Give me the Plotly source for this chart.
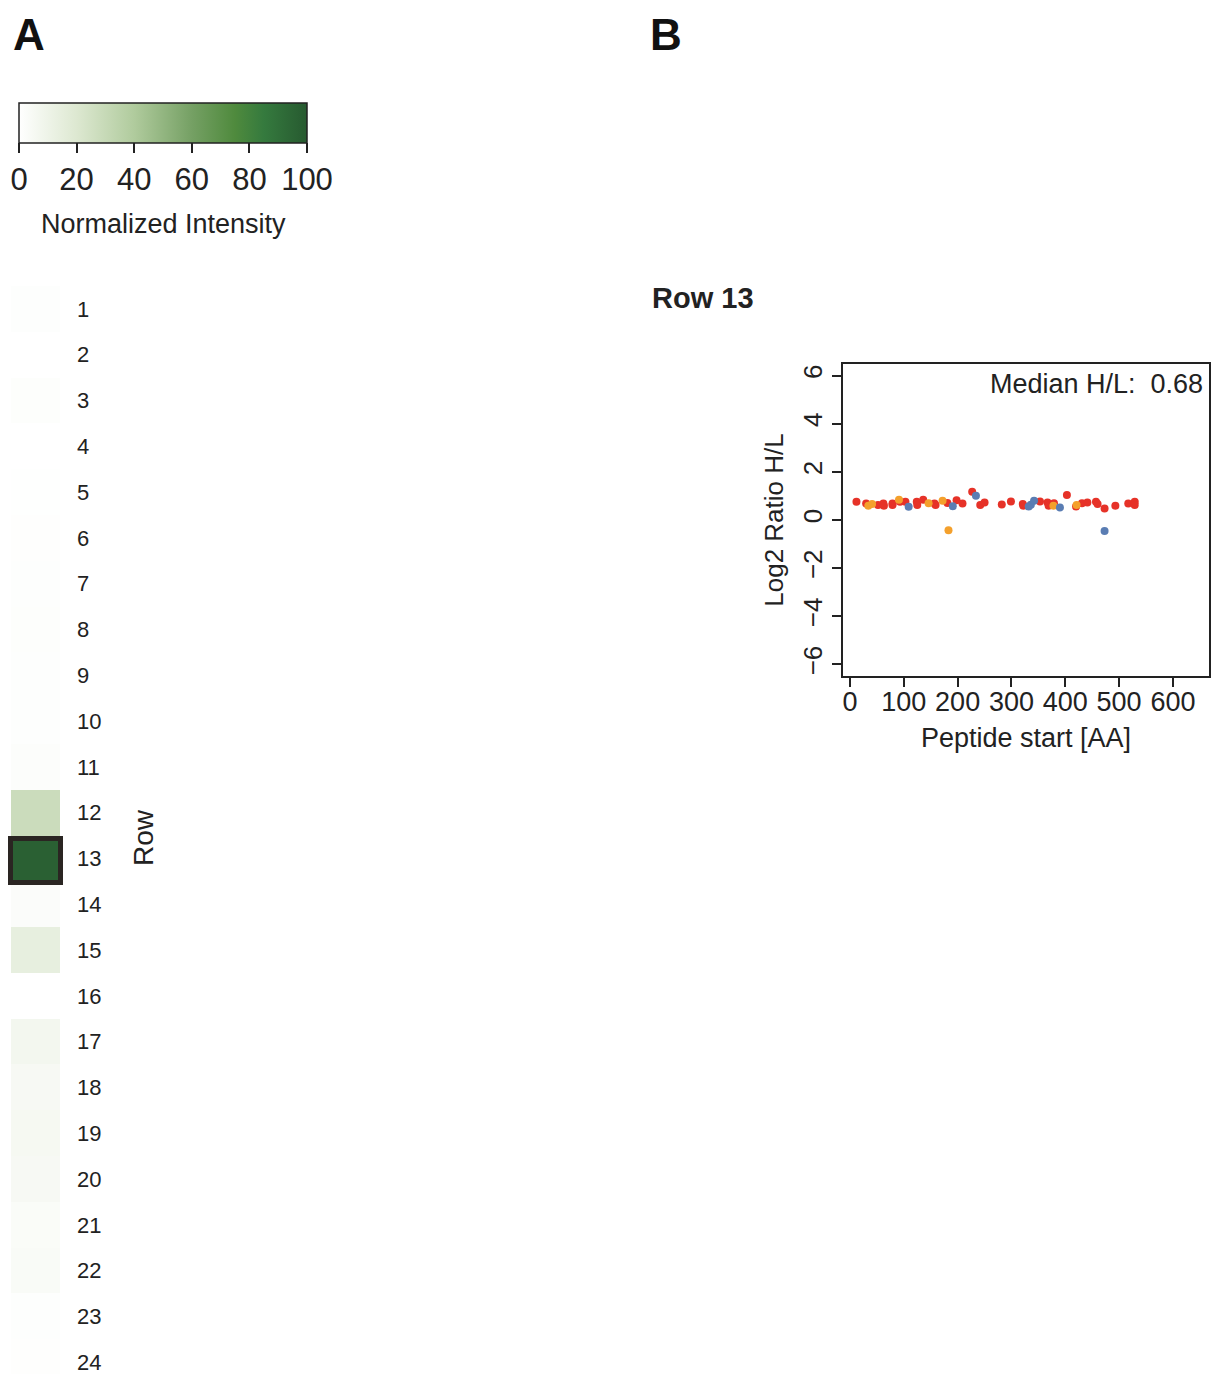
import plotly.graph_objects as go

W, H = 1211, 1374

# ---------------- data ----------------
rows = list(range(1, 25))
intensity = [1.0, 0.2, 1.2, 0.2, 0.3, 0.8, 0.9, 1.3, 1.0, 1.0, 1.6, 28, 97, 2.2, 14, 0.1,
             7, 5, 5.5, 5, 3, 3.5, 1, 0.8]
highlight_row = 13

red_x = [12, 30, 52, 62, 63, 79, 79, 93, 103, 124, 125, 136, 157, 159, 181, 198, 209, 227,
         242, 250, 282, 299, 321, 322, 353, 367, 369, 379, 403, 420, 431, 441, 457, 460, 473,
         493, 517, 529, 529]
red_y = [0.76, 0.69, 0.62, 0.69, 0.59, 0.69, 0.62, 0.76, 0.76, 0.76, 0.62, 0.84, 0.69, 0.62,
         0.71, 0.82, 0.69, 1.17, 0.62, 0.73, 0.64, 0.77, 0.66, 0.59, 0.77, 0.73, 0.59, 0.70,
         1.04, 0.56, 0.70, 0.73, 0.76, 0.66, 0.48, 0.59, 0.69, 0.76, 0.62]
orange_x = [34, 41, 91, 146, 172, 183, 378, 421]
orange_y = [0.59, 0.66, 0.84, 0.70, 0.80, -0.43, 0.59, 0.62]
blue_x = [109, 191, 234, 332, 336, 342, 390, 473]
blue_y = [0.55, 0.57, 1.01, 0.56, 0.63, 0.80, 0.52, -0.46]

median_hl = 0.68
x_ticks = [0, 100, 200, 300, 400, 500, 600]
y_ticks = [-6, -4, -2, 0, 2, 4, 6]
cbar_ticks = [0, 20, 40, 60, 80, 100]

FONT = "Liberation Sans, Arial, Helvetica, sans-serif"
greens = [[0, '#ffffff'], [0.2, '#dde8d1'], [0.4, '#b0cb9d'], [0.6, '#75a064'],
          [0.75, '#4f8a3d'], [0.85, '#357a3e'], [1, '#275a30']]

def px(v):
    return v / W

def py(v):
    return 1 - v / H

fig = go.Figure()

# heatmap column
fig.add_trace(go.Heatmap(
    z=[[v] for v in intensity], x=[0], y=rows,
    colorscale=greens, zmin=0, zmax=100, xaxis='x', yaxis='y',
    hoverinfo='skip',
    colorbar=dict(
        orientation='h', x=px(19), xanchor='left', y=py(103), yanchor='top',
        len=288, lenmode='pixels', thickness=40, xpad=0, ypad=0,
        outlinewidth=1.5, outlinecolor='#222',
        tickvals=cbar_ticks, ticks='outside', ticklen=10, tickwidth=2, tickcolor='#222',
        tickfont=dict(size=31, color='#222', family=FONT),
    ),
))

# scatter
for xs, ys, col in [(red_x, red_y, '#e63228'), (orange_x, orange_y, '#f4a02c'),
                    (blue_x, blue_y, '#5a7db3')]:
    fig.add_trace(go.Scatter(x=xs, y=ys, mode='markers', xaxis='x2', yaxis='y2',
                             marker=dict(size=8, color=col, line=dict(width=0)),
                             showlegend=False, hoverinfo='skip'))

row_h = 45.8
top = 286
cell_l, cell_r = 11, 60
fig.update_layout(
    width=W, height=H, margin=dict(l=0, r=0, t=0, b=0),
    paper_bgcolor='white', plot_bgcolor='white', showlegend=False,
    font=dict(family=FONT, color='#222'),
    xaxis=dict(domain=[px(cell_l), px(cell_r)], range=[-0.5, 0.5], showticklabels=False,
               showgrid=False, zeroline=False, showline=False, ticks=''),
    yaxis=dict(domain=[0, py(top)], range=[0.5 + (H - top) / row_h, 0.5], side='right',
               tickvals=rows, ticktext=[str(r) for r in rows], ticks='', ticklabelstandoff=16,
               ticklabeloverflow='allow',
               tickfont=dict(size=22, color='#222'), showgrid=False, zeroline=False,
               showline=False),
    xaxis2=dict(domain=[px(843), px(1209)], range=[-13, 667], anchor='y2',
                tickvals=x_ticks, ticks='outside', ticklen=9, tickwidth=2, tickcolor='#222',
                ticklabelstandoff=-8,
                tickfont=dict(size=27, color='#222'), showgrid=False, zeroline=False,
                showline=True, linecolor='#222', linewidth=2, mirror=True,
                title=dict(text='Peptide start [AA]', font=dict(size=27, color='#222'),
                           standoff=12)),
    yaxis2=dict(domain=[py(676), py(364)], range=[-6.48, 6.48], anchor='x2',
                tickvals=y_ticks, ticktext=['\u22126', '\u22124', '\u22122', '0', '2', '4', '6'],
                ticks='outside', ticklen=9, tickwidth=2, tickcolor='#222', tickangle=-90,
                tickfont=dict(size=26, color='#222'), showgrid=False, zeroline=False,
                showline=True, linecolor='#222', linewidth=2, mirror=True,
                title=dict(text='Log2 Ratio H/L', font=dict(size=26, color='#222'),
                           standoff=6)),
)

# highlight box around selected row (paper coords derived from the row layout)
yc = top + (highlight_row - 0.5) * row_h + 2
half_h = row_h / 2 - 0.8
fig.add_shape(type='rect', xref='paper', yref='paper',
              x0=px(cell_l - 0.5), x1=px(cell_r + 0.5),
              y0=py(yc + half_h), y1=py(yc - half_h),
              line=dict(color='#2a2522', width=5), fillcolor='rgba(0,0,0,0)')

annotations = [
    dict(text='<b>A</b>', x=px(11), y=py(8), xanchor='left', yanchor='top',
         font=dict(size=44, color='#111')),
    dict(text='<b>B</b>', x=px(648), y=py(8), xanchor='left', yanchor='top',
         font=dict(size=44, color='#111')),
    dict(text='Normalized Intensity', x=px(163), y=py(224), xanchor='center',
         yanchor='middle', font=dict(size=27, color='#222')),
    dict(text='<b>Row %d</b>' % highlight_row, x=px(650), y=py(298), xanchor='left',
         yanchor='middle', font=dict(size=29, color='#222')),
    dict(text='Row', x=px(143), y=py(838), xanchor='center', yanchor='middle',
         textangle=-90, font=dict(size=28, color='#222')),
    dict(text='Median H/L:  %.2f' % median_hl, xref='x2 domain', yref='y2 domain',
         x=0.99, y=0.99, xanchor='right', yanchor='top', showarrow=False,
         font=dict(size=27, color='#222')),
]
for a in annotations:
    a.setdefault('xref', 'paper')
    a.setdefault('yref', 'paper')
    a['showarrow'] = False
    fig.add_annotation(**a)

fig.write_html('out.html')
